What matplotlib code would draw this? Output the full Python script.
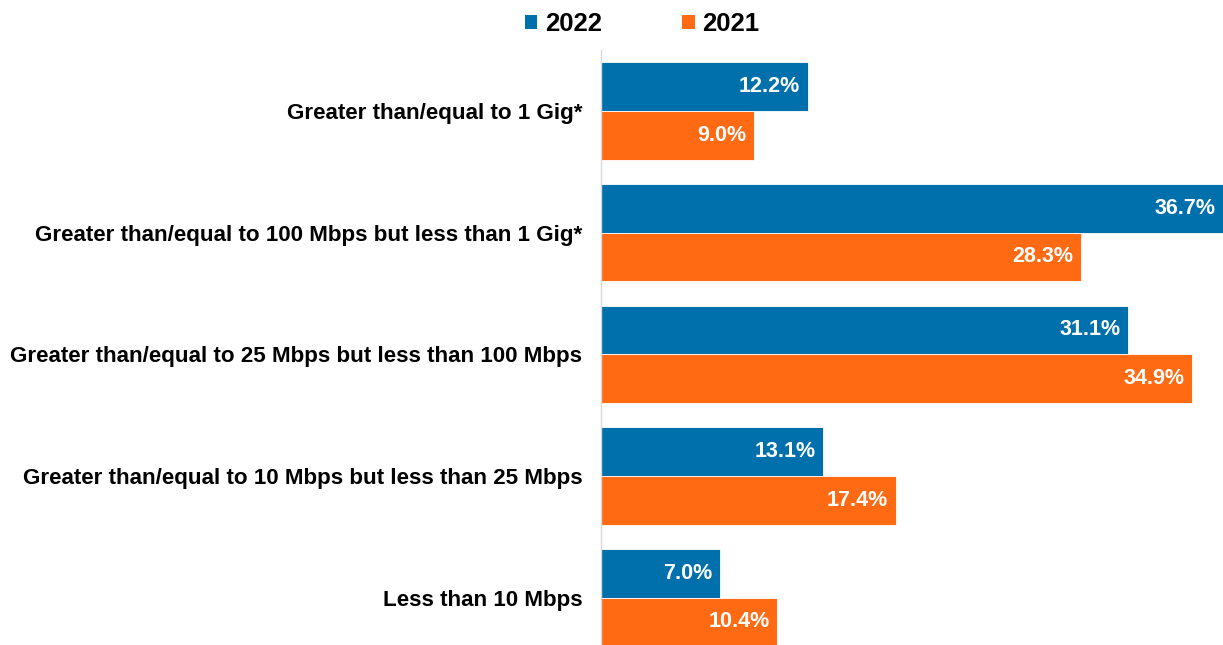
import matplotlib
matplotlib.use("Agg")
import matplotlib.pyplot as plt
from matplotlib.patches import Patch
import numpy as np

categories = [
    "Greater than/equal to 1 Gig*",
    "Greater than/equal to 100 Mbps but less than 1 Gig*",
    "Greater than/equal to 25 Mbps but less than 100 Mbps",
    "Greater than/equal to 10 Mbps but less than 25 Mbps",
    "Less than 10 Mbps",
]
values_2022 = [12.2, 36.7, 31.1, 13.1, 7.0]
values_2021 = [9.0, 28.3, 34.9, 17.4, 10.4]
series_names = ["2022", "2021"]
colors = ["#0070AD", "#FF6A13"]

plt.rcParams['font.family'] = ['Liberation Sans', 'DejaVu Sans']
plt.rcParams['font.weight'] = 'bold'

fig = plt.figure(figsize=(12.23, 6.45), dpi=100)
ax = fig.add_axes([601/1223, 0, 622/1223, 595/645])

y = np.arange(len(categories))
h = 0.4
for vals, off, col in [(values_2022, -h/2, colors[0]), (values_2021, h/2, colors[1])]:
    bars = ax.barh(y + off, vals, height=h, color=col, edgecolor='white', linewidth=0.6)
    for b, v in zip(bars, vals):
        ax.text(b.get_width() - 0.45, b.get_y() + b.get_height()/2, f"{v:.1f}%",
                ha='right', va='center', color='white', fontsize=15.5, fontweight='bold')

ax.set_xlim(0, 36.7)
ax.set_ylim(4.39, -0.5)
ax.set_yticks(y)
ax.set_yticklabels(categories, fontsize=16.1, fontweight='bold')
ax.tick_params(axis='y', length=0, pad=13.5)
ax.set_xticks([])
for s in ['top', 'right', 'bottom']:
    ax.spines[s].set_visible(False)
ax.spines['left'].set_color('#D9D9D9')
ax.spines['left'].set_linewidth(1)

handles = [Patch(facecolor=c, edgecolor='none') for c in colors]
fig.legend(handles, series_names, loc='upper center', bbox_to_anchor=(642/1223, 1.017),
           ncol=2, frameon=False, handlelength=0.5, handleheight=0.5,
           handletextpad=0.3, columnspacing=3.1, prop={'weight': 'bold', 'size': 18.5})

fig.savefig("out.png", dpi=100)
